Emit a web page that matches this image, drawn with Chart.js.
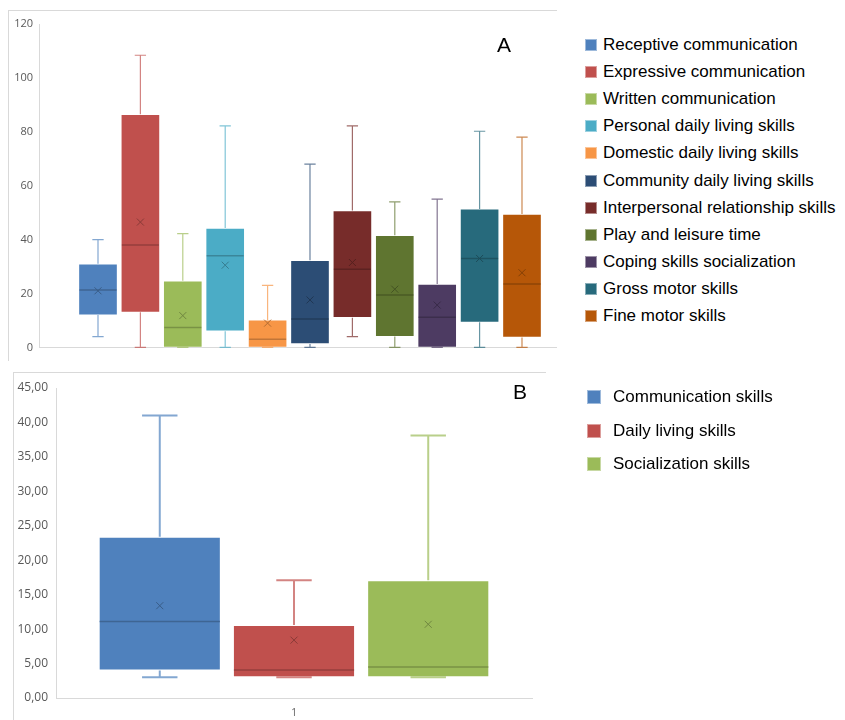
<!DOCTYPE html>
<html>
<head>
<meta charset="utf-8">
<script src="https://cdn.jsdelivr.net/npm/chart.js@4.4.1/dist/chart.umd.min.js"></script>
<style>
  body { margin: 0; width: 845px; height: 720px; position: relative; overflow: hidden; background: #fff; font-family: "Liberation Sans", Arial, sans-serif; }
  .frame { position: absolute; border-top: 1px solid #d9d9d9; border-left: 1px solid #d9d9d9; }
  #frameA { left: 8px; top: 10px; width: 548px; height: 350px; }
  #frameB { left: 13px; top: 372px; width: 532px; height: 348px; }
  .wrap { position: absolute; left: 0; width: 560px; }
  #wrapA { top: 0; height: 360px; }
  #wrapB { top: 365px; height: 355px; }
  .tag { position: absolute; font-size: 21px; line-height: 21px; color: #000; }
  .legend { position: absolute; list-style: none; margin: 0; padding: 0; font-size: 17px; color: #000; }
  .legend li { display: flex; align-items: center; white-space: nowrap; }
  .legend .sw { display: inline-block; box-sizing: border-box; border: 1px solid rgba(255,255,255,0.45); }
  #legendA { left: 585px; top: 31px; }
  #legendA li { height: 27.2px; }
  #legendA .sw { width: 12px; height: 12px; margin-right: 6px; }
  #legendB { left: 587px; top: 380px; }
  #legendB li { height: 33.7px; }
  #legendB .sw { width: 14px; height: 14px; margin-right: 12px; }
</style>
</head>
<body>
<div class="frame" id="frameA"></div>
<div class="frame" id="frameB"></div>
<div class="wrap" id="wrapA"><canvas id="chartA"></canvas></div>
<div class="wrap" id="wrapB"><canvas id="chartB"></canvas></div>
<div class="tag" style="left:497px; top:34px;">A</div>
<div class="tag" style="left:513px; top:381px;">B</div>
<ul class="legend" id="legendA"></ul>
<ul class="legend" id="legendB"></ul>

<script>
// Panel A: subdomains
const namesA = [
  "Receptive communication", "Expressive communication", "Written communication",
  "Personal daily living skills", "Domestic daily living skills", "Community daily living skills",
  "Interpersonal relationship skills", "Play and leisure time", "Coping skills socialization",
  "Gross motor skills", "Fine motor skills"
]
const minA = [4, 0, 0, 0, 0, 0, 4, 0, 0, 0, 0]
const q1A = [12, 13, 0, 6, 0, 1.3, 11, 4, 0, 9.3, 3.7]
const medianA = [21.3, 38, 7.4, 34, 3, 10.5, 29, 19.4, 11.2, 33, 23.5]
const q3A = [31, 86.5, 24.7, 44.3, 10.2, 32.3, 50.8, 41.6, 23.5, 51.4, 49.5]
const maxA = [40, 108.4, 42.2, 82.2, 23, 68, 82.2, 54, 55, 80.2, 78]
const meanA = [21, 46.5, 11.8, 30.5, 9, 17.6, 31.5, 21.6, 15.7, 33, 27.7]
const colorsA = ["#4F81BD", "#C0504D", "#9BBB59", "#4BACC6", "#F79646", "#2C4D75",
  "#772C2A", "#5F7530", "#4D3B62", "#276A7C", "#B65708"]
const ticksA = [0, 20, 40, 60, 80, 100, 120]

// Panel B: domains
const categoriesB = ["1"]
const namesB = ["Communication skills", "Daily living skills", "Socialization skills"]
const minB = [3, 3, 3]
const q1B = [4, 3, 3]
const medianB = [11.1, 4.05, 4.5]
const q3B = [23.4, 10.6, 17.1]
const maxB = [41, 17.1, 38.1]
const meanB = [13.4, 8.4, 10.7]
const colorsB = ["#4F81BD", "#C0504D", "#9BBB59"]
const ticksB = [0, 5, 10, 15, 20, 25, 30, 35, 40, 45]

function rgba(hex, a) {
  const n = parseInt(hex.slice(1), 16)
  return `rgba(${(n >> 16) & 255}, ${(n >> 8) & 255}, ${n & 255}, ${a})`
}

function darken(hex, f) {
  const n = parseInt(hex.slice(1), 16)
  const r = Math.round(((n >> 16) & 255) * f)
  const g = Math.round(((n >> 8) & 255) * f)
  const b = Math.round((n & 255) * f)
  return `rgb(${r}, ${g}, ${b})`
}

function statsOf(i, mins, q1s, meds, q3s, maxs, means) {
  return { min: mins[i], q1: q1s[i], median: meds[i], q3: q3s[i], max: maxs[i], mean: means[i] }
}

// draws whiskers, caps, median line and mean cross on top of the floating bars
const boxWhiskers = {
  id: "boxWhiskers",
  afterDatasetsDraw(chart, args, opts) {
    const ctx = chart.ctx
    const y = chart.scales.y
    chart.data.datasets.forEach((ds, di) => {
      const meta = chart.getDatasetMeta(di)
      meta.data.forEach((bar, i) => {
        const s = ds.stats[i]
        const color = Array.isArray(ds.baseColor) ? ds.baseColor[i] : ds.baseColor
        const { x, width } = bar.getProps(["x", "width"], true)
        const cap = width * 0.29
        const yMin = y.getPixelForValue(s.min)
        const yQ1 = y.getPixelForValue(s.q1)
        const yQ3 = y.getPixelForValue(s.q3)
        const yMax = y.getPixelForValue(s.max)
        const yMed = y.getPixelForValue(s.median)
        const yMean = y.getPixelForValue(s.mean)

        ctx.save()
        ctx.strokeStyle = rgba(color, 0.7)
        ctx.lineWidth = opts.whiskerWidth
        ctx.beginPath()
        ctx.moveTo(x, yQ3)
        ctx.lineTo(x, yMax)
        ctx.moveTo(x - cap / 2, yMax)
        ctx.lineTo(x + cap / 2, yMax)
        ctx.moveTo(x, yQ1)
        ctx.lineTo(x, yMin)
        ctx.moveTo(x - cap / 2, yMin)
        ctx.lineTo(x + cap / 2, yMin)
        ctx.stroke()

        ctx.strokeStyle = darken(color, 0.78)
        ctx.lineWidth = 1.5
        ctx.beginPath()
        ctx.moveTo(x - width / 2 + 1, yMed)
        ctx.lineTo(x + width / 2 - 1, yMed)
        ctx.stroke()

        const m = opts.meanSize
        ctx.lineWidth = 1
        ctx.strokeStyle = darken(color, 0.72)
        ctx.beginPath()
        ctx.moveTo(x - m, yMean - m)
        ctx.lineTo(x + m, yMean + m)
        ctx.moveTo(x + m, yMean - m)
        ctx.lineTo(x - m, yMean + m)
        ctx.stroke()
        ctx.restore()
      })
    })
  }
}

const tickFont = { family: "'Open Sans', sans-serif", size: 11 }

const chartA = new Chart(document.getElementById("chartA"), {
  type: "bar",
  data: {
    datasets: [{
      data: namesA.map((n, i) => ({ x: i + 1, y: [q1A[i], q3A[i]] })),
      stats: namesA.map((n, i) => statsOf(i, minA, q1A, medianA, q3A, maxA, meanA)),
      baseColor: colorsA,
      backgroundColor: colorsA,
      borderColor: "rgba(255,255,255,0.4)",
      borderWidth: 1,
      borderSkipped: false,
      barThickness: 39
    }]
  },
  options: {
    responsive: true,
    maintainAspectRatio: false,
    animation: false,
    events: [],
    layout: { padding: { top: 24, bottom: 11, right: 4, left: 0 } },
    scales: {
      x: {
        type: "linear",
        offset: false,
        min: -0.3915,
        max: 11.802,
        grid: { display: false, drawTicks: false },
        border: { color: "#d9d9d9" },
        ticks: { display: false },
        afterFit: (scale) => { scale.height = 0 }
      },
      y: {
        min: 0,
        max: 120,
        grid: { display: false, drawTicks: false },
        border: { color: "#d9d9d9" },
        ticks: { color: "#595959", font: tickFont, padding: 6 },
        afterBuildTicks: (scale) => { scale.ticks = ticksA.map((v) => ({ value: v })) },
        afterFit: (scale) => { scale.width = 39 }
      }
    },
    plugins: {
      legend: { display: false },
      tooltip: { enabled: false },
      boxWhiskers: { whiskerWidth: 1.2, meanSize: 3.5 }
    }
  },
  plugins: [boxWhiskers]
})

const chartB = new Chart(document.getElementById("chartB"), {
  type: "bar",
  data: {
    labels: categoriesB,
    datasets: namesB.map((name, i) => ({
      label: name,
      data: [[q1B[i], q3B[i]]],
      stats: [statsOf(i, minB, q1B, medianB, q3B, maxB, meanB)],
      baseColor: colorsB[i],
      backgroundColor: colorsB[i],
      borderColor: "rgba(255,255,255,0.4)",
      borderWidth: 1,
      borderSkipped: false,
      categoryPercentage: 0.846,
      barPercentage: 0.91
    }))
  },
  options: {
    responsive: true,
    maintainAspectRatio: false,
    animation: false,
    events: [],
    layout: { padding: { top: 23, bottom: 0, right: 28, left: 0 } },
    scales: {
      x: {
        grid: { display: false, drawTicks: false },
        border: { color: "#d9d9d9" },
        ticks: { color: "#595959", font: { family: "'Open Sans', sans-serif", size: 10 }, padding: 9 },
        afterFit: (scale) => { scale.height = 22 }
      },
      y: {
        min: 0,
        max: 45,
        grid: { display: false, drawTicks: false },
        border: { color: "#d9d9d9" },
        ticks: {
          color: "#595959",
          font: { family: "'Open Sans', sans-serif", size: 12 },
          padding: 8,
          callback: (v) => v.toFixed(2).replace(".", ",")
        },
        afterBuildTicks: (scale) => { scale.ticks = ticksB.map((v) => ({ value: v })) },
        afterFit: (scale) => { scale.width = 56 }
      }
    },
    plugins: {
      legend: { display: false },
      tooltip: { enabled: false },
      boxWhiskers: { whiskerWidth: 2, meanSize: 3.5 }
    }
  },
  plugins: [boxWhiskers]
})

// HTML legends built from the same names and colours
function buildLegend(id, names, colors) {
  const ul = document.getElementById(id)
  names.forEach((name, i) => {
    const li = document.createElement("li")
    const sw = document.createElement("span")
    sw.className = "sw"
    sw.style.background = colors[i]
    li.appendChild(sw)
    li.appendChild(document.createTextNode(name))
    ul.appendChild(li)
  })
}
buildLegend("legendA", namesA, colorsA)
buildLegend("legendB", namesB, colorsB)
</script>
</body>
</html>
